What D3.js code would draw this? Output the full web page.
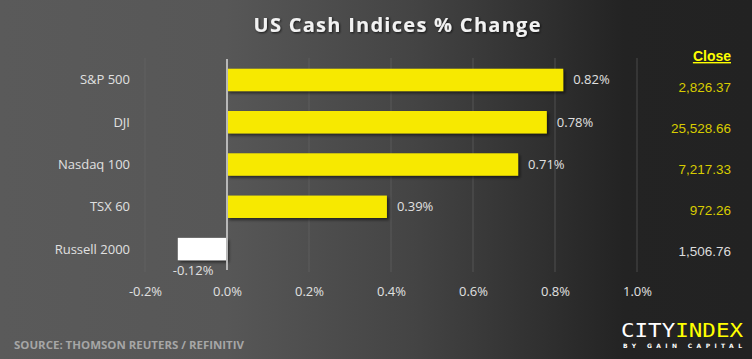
<!DOCTYPE html>
<html><head><meta charset="utf-8">
<script src="https://cdn.jsdelivr.net/npm/d3@7"></script>
<style>html,body{margin:0;padding:0;background:#222;}svg{display:block;}</style>
</head><body>
<svg id="c" width="752" height="359"></svg>
<script>
const categories = ["S&P 500", "DJI", "Nasdaq 100", "TSX 60", "Russell 2000"];
const changes = [0.82, 0.78, 0.71, 0.39, -0.12];
const closes = ["2,826.37", "25,528.66", "7,217.33", "972.26", "1,506.76"];
const tickValues = [-0.2, 0, 0.2, 0.4, 0.6, 0.8, 1.0];
const tickLabels = ["-0.2%", "0.0%", "0.2%", "0.4%", "0.6%", "0.8%", "1.0%"];

const W = 752, H = 359;
const svg = d3.select("#c");
const defs = svg.append("defs");
const g = defs.append("linearGradient").attr("id","bg").attr("x1","0").attr("x2","1").attr("y1","0").attr("y2","0");
g.append("stop").attr("offset","0").attr("stop-color","#5a5a5a");
g.append("stop").attr("offset","0.3").attr("stop-color","#575757");
g.append("stop").attr("offset","0.55").attr("stop-color","#444444");
g.append("stop").attr("offset","0.83").attr("stop-color","#232323");
g.append("stop").attr("offset","1").attr("stop-color","#222222");
svg.append("rect").attr("width",W).attr("height",H).attr("fill","url(#bg)");

const sh = defs.append("filter").attr("id","sh").attr("x","-10%").attr("y","-20%").attr("width","130%").attr("height","160%");
sh.append("feDropShadow").attr("dx",2).attr("dy",2).attr("stdDeviation",1.5).attr("flood-color","#000").attr("flood-opacity",0.55);
const tsh = defs.append("filter").attr("id","tsh");
tsh.append("feDropShadow").attr("dx",1).attr("dy",1).attr("stdDeviation",0.8).attr("flood-color","#000").attr("flood-opacity",0.7);

const x = d3.scaleLinear().domain([-0.2, 1.0]).range([145, 637]);
const y = d3.scaleBand().domain(categories).range([59, 270]).paddingInner(0.47).paddingOuter(0.23);
const yClose = d3.scalePoint().domain(categories).range([87, 251]);

// gridlines
svg.append("g").selectAll("line").data(tickValues.filter(v => v !== 0)).join("line")
  .attr("x1", d => x(d)).attr("x2", d => x(d)).attr("y1", 58).attr("y2", 272)
  .attr("stroke", "#6a6a6a").attr("stroke-opacity", 0.55).attr("stroke-width", 1);

// Title
svg.append("text").attr("x", 397).attr("y", 32).attr("text-anchor","middle")
  .attr("font-family","'Open Sans', sans-serif").attr("font-weight","bold").attr("font-size",20)
  .attr("fill","#f2f2f2").attr("filter","url(#tsh)")
  .attr("textLength", 287).attr("lengthAdjust","spacing")
  .text("US Cash Indices % Change");

// bars
svg.append("g").selectAll("rect").data(categories).join("rect")
  .attr("x", (d,i) => x(Math.min(0, changes[i])))
  .attr("width", (d,i) => Math.abs(x(changes[i]) - x(0)))
  .attr("y", d => y(d)).attr("height", y.bandwidth())
  .attr("fill", (d,i) => changes[i] >= 0 ? "#f7e900" : "#ffffff")
  .attr("filter","url(#sh)");

// zero axis line
svg.append("line").attr("x1", x(0)).attr("x2", x(0)).attr("y1", 59).attr("y2", 270)
  .attr("stroke","#b8b8b8").attr("stroke-width", 2);

// category labels
svg.append("g").selectAll("text").data(categories).join("text")
  .attr("x", 130).attr("y", d => y(d) + y.bandwidth()/2 + 4.5).attr("text-anchor","end")
  .attr("font-family","'Open Sans', sans-serif").attr("font-size",13).attr("fill","#e0e0e0")
  .text(d => d);

// value labels
svg.append("g").selectAll("text").data(categories).join("text")
  .attr("x", (d,i) => changes[i] >= 0 ? x(changes[i]) + 10 : x(changes[i]) - 5)
  .attr("y", (d,i) => changes[i] >= 0 ? y(d) + y.bandwidth()/2 + 4.5 : y(d) + y.bandwidth() + 15)
  .attr("font-family","'Open Sans', sans-serif").attr("font-size",13).attr("fill","#e0e0e0")
  .text((d,i) => changes[i].toFixed(2) + "%");

// x axis
const xAxis = d3.axisBottom(x).tickValues(tickValues).tickFormat((d,i) => tickLabels[i]).tickSize(0).tickPadding(0);
const ax = svg.append("g").attr("transform","translate(0,287)").call(xAxis);
ax.select(".domain").remove();
ax.selectAll("text").attr("font-family","'Open Sans', sans-serif").attr("font-size",13).attr("fill","#e0e0e0").attr("dy","0.71em");

// Close column
svg.append("text").attr("x", 731).attr("y", 61).attr("text-anchor","end")
  .attr("font-family","'Liberation Sans', Arial, sans-serif").attr("font-weight","bold").attr("font-size",14)
  .attr("fill","#ffff00").attr("text-decoration","underline").text("Close");
svg.append("g").selectAll("text").data(categories).join("text")
  .attr("x", 731).attr("y", d => yClose(d) + 5)
  .attr("text-anchor","end").attr("font-family","'Liberation Sans', Arial, sans-serif").attr("font-size",13.5)
  .attr("fill", (d,i) => i === categories.length - 1 ? "#dcdcdc" : "#d8cc00")
  .text((d,i) => closes[i]);

// Source
svg.append("text").attr("x", 14).attr("y", 349)
  .attr("font-family","'Open Sans', sans-serif").attr("font-weight","bold").attr("font-size",11)
  .attr("fill","#a6a6a6").attr("textLength", 230).attr("lengthAdjust","spacingAndGlyphs")
  .text("SOURCE: THOMSON REUTERS / REFINITIV");

// Logo
const logo = svg.append("text").attr("x", 621).attr("y", 337)
  .attr("font-family","'DejaVu Sans Mono', monospace").attr("font-size",19.5)
  .attr("textLength", 122).attr("lengthAdjust","spacingAndGlyphs");
logo.append("tspan").attr("fill","#ffffff").text("CITY");
logo.append("tspan").attr("fill","#ffff00").text("INDEX");
svg.append("text").attr("x", 623).attr("y", 348)
  .attr("font-family","'DejaVu Sans', sans-serif").attr("font-weight","bold").attr("font-size",6)
  .attr("fill","#ffffff").attr("textLength", 119).attr("lengthAdjust","spacing")
  .text("BY GAIN CAPITAL");
</script>
</body></html>
